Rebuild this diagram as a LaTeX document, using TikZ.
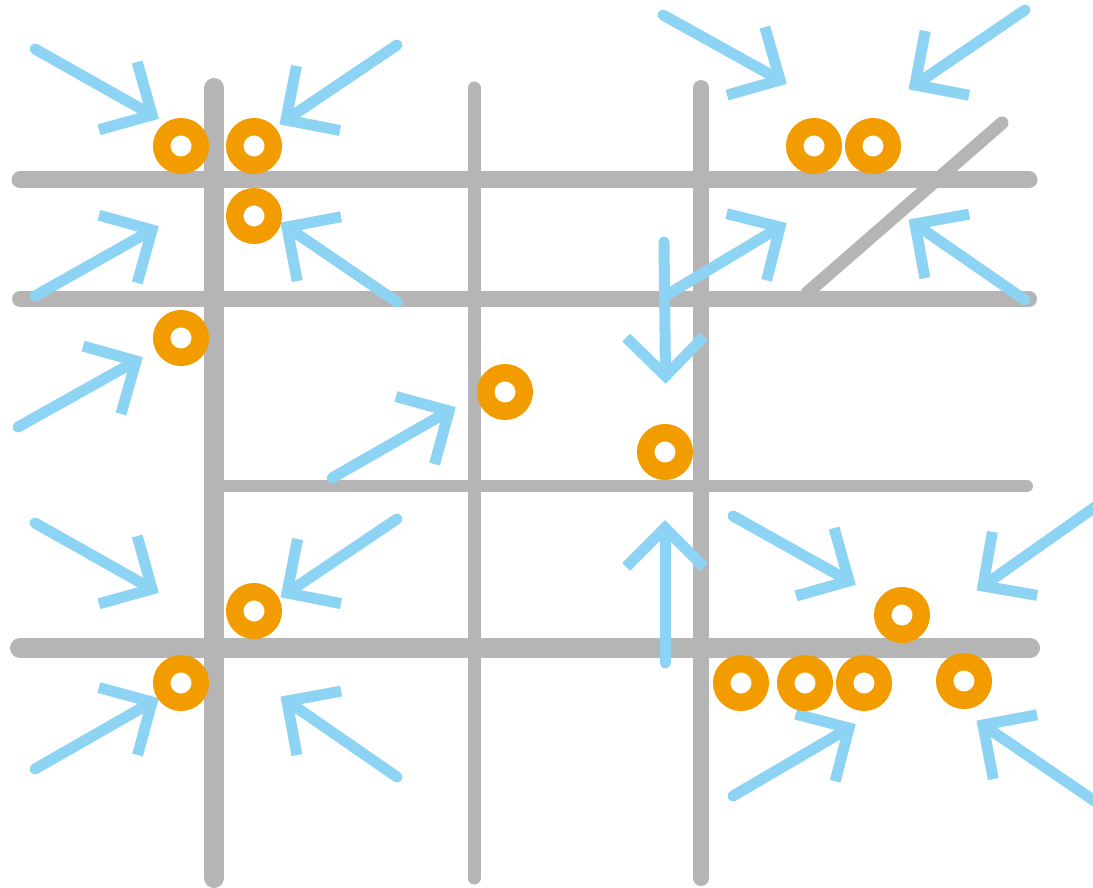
\documentclass[tikz,border=0pt]{standalone}
\usetikzlibrary{calc}
\definecolor{roadgrey}{HTML}{B5B5B5}
\definecolor{sky}{HTML}{8DD3F4}
\definecolor{amber}{HTML}{F39C00}
\tikzset{
  street/.style={draw=roadgrey, line width=#1, line cap=round},
  street/.default=17pt,
  shaft/.style={draw=sky, line width=11pt, line cap=round},
  head/.style={draw=sky, line width=11pt, line cap=butt, line join=miter},
  ring/.style={circle, draw=amber, line width=17.5pt, minimum size=38.5pt, inner sep=0pt},
}
\newcommand\inarrow[3]{%
  \coordinate (#1s) at #2;
  \coordinate (#1t) at #3;
  \draw[shaft] (#1s) -- (#1t);
  \draw[head] ($(#1t)!55pt!-45:(#1s)$) -- (#1t) -- ($(#1t)!55pt!45:(#1s)$);
}
\begin{document}
\begin{tikzpicture}[x=1pt,y=-1pt]
\useasboundingbox (0,0) rectangle (1093,888);
\clip (0,0) rectangle (1093,888);
% streets
\draw[street=17pt] (20,180) -- (1029,180);
\draw[street=16pt] (20,299) -- (1029,299);
\draw[street=12pt] (214,486) -- (1027,486);
\draw[street=20pt] (20,648) -- (1030,648);
\draw[street=20pt] (214,88) -- (214,878);
\draw[street=13pt] (474,88) -- (474,878);
\draw[street=16pt] (701,88) -- (701,878);
\draw[street=13pt] (1002,123) -- (807,293);
% arrows
\inarrow{a1}{(35,49)}{(152,115)}
\inarrow{a2}{(397,45)}{(286,120)}
\inarrow{a3}{(35,296)}{(152,230)}
\inarrow{a4}{(397,302)}{(287,227)}
\inarrow{a5}{(18,427)}{(136,361)}
\inarrow{a6}{(332,478)}{(449,411)}
\inarrow{a7}{(664,242)}{(665.5,376)}
\inarrow{a8}{(665,296)}{(780,227)}
\inarrow{a9}{(663,15)}{(780,80)}
\inarrow{a10}{(1025,10)}{(915,85)}
\inarrow{a11}{(1025,300)}{(915,224)}
\inarrow{a12}{(35,523)}{(152,589)}
\inarrow{a13}{(397,519)}{(287,593)}
\inarrow{a14}{(35,769)}{(152,702)}
\inarrow{a15}{(397,777)}{(287,701)}
\inarrow{a16}{(665,663)}{(665,528)}
\inarrow{a17}{(733,516)}{(849,581)}
\inarrow{a18}{(1105,500)}{(983,586)}
\inarrow{a19}{(733,796)}{(849,728)}
\inarrow{a20}{(1105,808)}{(983,725)}
% rings
\node[ring] (r1) at (181,146) {};
\node[ring] (r2) at (254,146) {};
\node[ring] (r3) at (254,216) {};
\node[ring] (r4) at (181,338) {};
\node[ring] (r5) at (505,392) {};
\node[ring] (r6) at (665,452) {};
\node[ring] (r7) at (814,146) {};
\node[ring] (r8) at (873,146) {};
\node[ring] (r9) at (254,611) {};
\node[ring] (r10) at (181,683) {};
\node[ring] (r11) at (902,615) {};
\node[ring] (r12) at (741,683) {};
\node[ring] (r13) at (805,683) {};
\node[ring] (r14) at (864,683) {};
\node[ring] (r15) at (964,681) {};
\end{tikzpicture}
\end{document}
